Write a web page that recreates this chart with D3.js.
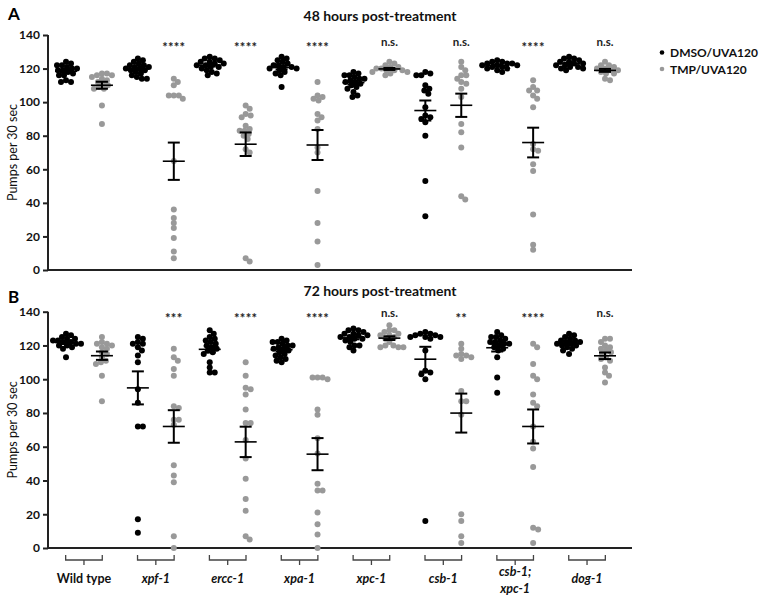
<!DOCTYPE html>
<html><head><meta charset="utf-8">
<script src="https://cdn.jsdelivr.net/npm/d3@7"></script>
<style>body{margin:0;background:#fff}svg{display:block}text{font-family:Lato,'Open Sans',sans-serif}</style>
</head><body>
<script>
// ---------- data ----------
const genotypes = [["Wild type"],["xpf-1"],["ercc-1"],["xpa-1"],["xpc-1"],["csb-1"],["csb-1;","xpc-1"],["dog-1"]];
const italicLabel = [false,true,true,true,true,true,true,true];
const treatments = ["DMSO/UVA120","TMP/UVA120"];
const yTicks = [0,20,40,60,80,100,120,140];
const sig48 = ["", "****", "****", "****", "n.s.", "n.s.", "****", "n.s."];
const sig72 = ["", "***", "****", "****", "n.s.", "**", "****", "n.s."];

const dmso48 = [
  [112,112,113,116,116,117,118,119,119,120,120,121,122,122,123,124],
  [126,125,124,123,122,122,121,121,120,120,119,119,118,117,116,115,114,114],
  [127,126,126,125,124,124,123,123,122,122,121,121,120,119,118,117,116],
  [127,126,125,124,123,122,122,121,121,120,120,119,118,117,116,109],
  [118,117,116,116,115,114,114,113,112,112,111,110,109,108,106,104,103],
  [118,117,116,116,110,108,107,105,97,92,91,90,88,80,53,32],
  [125,124,124,123,123,123,122,122,122,121,121,120,120,119,118],
  [127,126,126,125,124,124,123,123,122,122,121,121,120,120,119]
];
const tmp48 = [
  [117,117,116,116,115,114,113,112,111,110,109,108,108,98,87],
  [114,112,110,104,104,104,102,65,36,31,28,25,19,11,7],
  [98,96,93,92,91,86,84,83,83,81,80,78,72,70,7,5],
  [112,104,103,102,101,93,91,89,84,73,70,47,28,17,3],
  [124,123,122,121,121,120,120,119,119,119,118,118,117,116],
  [124,121,119,116,116,114,112,111,108,103,87,82,73,44,42],
  [113,109,107,107,104,102,97,75,72,71,63,59,33,15,12],
  [124,122,122,121,120,120,119,119,118,117,117,114,113]
];
const dmso72 = [
  [127,126,125,124,124,123,123,122,122,121,121,120,120,119,118,113],
  [125,124,122,121,121,119,117,114,110,94,86,72,72,17,9],
  [129,127,125,124,123,122,121,120,119,118,117,116,115,110,107,104,104],
  [124,123,122,122,121,120,120,119,118,118,117,116,115,114,113,112,111,110],
  [130,129,129,128,127,127,126,126,125,125,124,124,123,122,120,120,119,117],
  [128,127,127,126,126,125,125,125,124,117,105,104,103,100,16],
  [128,126,125,125,124,123,122,122,121,121,120,119,118,117,113,101,92],
  [127,126,125,124,123,123,122,122,121,121,120,120,119,118,117,115]
];
const tmp72 = [
  [125,122,121,121,120,119,118,116,115,113,111,110,109,102,87],
  [118,113,111,106,102,84,83,76,76,73,49,43,39,7,0],
  [110,102,95,94,91,82,74,74,64,53,41,29,22,5,7],
  [101,100,101,101,82,79,65,56,38,34,34,21,14,8,0],
  [132,129,129,128,127,126,126,125,124,122,120,120,119,119,119],
  [121,118,115,114,114,113,112,93,87,87,79,20,16,7,3],
  [121,119,109,102,100,91,86,84,72,63,59,48,12,11,3],
  [124,124,122,120,119,118,117,116,115,113,112,111,107,104,102,98]
];

// ---------- drawing ----------
const W = 761, H = 602;
const colors = ["#000000", "#999999"];
const svg = d3.select("body").append("svg").attr("width", W).attr("height", H);

const cols = d3.range(16);
const x = d3.scalePoint().domain(cols).range([66, 605]);
const axisX0 = 48, axisX1 = 632;
const R = 3;

function swarm(values, cx, y, minD) {
  const pts = values.map(v => ({v, y: y(v)})).sort((a, b) => b.v - a.v);
  const placed = [];
  for (const p of pts) {
    let off = 0;
    for (let k = 0; k < 400; k++) {
      const o = (k % 2 ? 1 : -1) * Math.ceil(k / 2) * 0.5;
      const ok = placed.every(q => (q.x - (cx + o)) ** 2 + (q.y - p.y) ** 2 >= minD * minD);
      if (ok) { off = o; break; }
    }
    p.x = cx + off;
    placed.push(p);
  }
  return placed;
}

function panel(opts) {
  const {top, bottom, dmso, tmp, sig, letter, title, titleY, letterY, sigY} = opts;
  const y = d3.scaleLinear().domain([0, 140]).range([bottom, top]);
  const g = svg.append("g");

  // y axis
  const ax = g.append("g").attr("transform", `translate(${axisX0},0)`)
    .call(d3.axisLeft(y).tickValues(yTicks).tickSize(5).tickPadding(3));
  ax.select(".domain").attr("stroke", "#222").attr("stroke-width", 2).attr("d", `M0,${bottom}V${top}`);
  ax.selectAll(".tick line").attr("stroke", "#222").attr("stroke-width", 2);
  ax.selectAll(".tick text").attr("font-size", 12).attr("font-weight", "bold").attr("fill", "#111")
    .style("font-family", "Lato,'Open Sans',sans-serif");
  // x axis line
  g.append("line").attr("x1", axisX0 - 1).attr("x2", axisX1).attr("y1", bottom).attr("y2", bottom)
    .attr("stroke", "#222").attr("stroke-width", 2);

  g.append("text").attr("transform", `translate(17,${(top + bottom) / 2}) rotate(-90)`)
    .attr("text-anchor", "middle").attr("font-size", 12.5).attr("fill", "#111").text("Pumps per 30 sec");
  g.append("text").attr("x", 8).attr("y", letterY).attr("font-size", 17).attr("font-weight", "bold").text(letter);
  g.append("text").attr("x", 380).attr("y", titleY).attr("text-anchor", "middle").attr("font-size", 14)
    .attr("font-weight", "bold").attr("fill", "#111").text(title);

  genotypes.forEach((gn, i) => {
    [dmso[i], tmp[i]].forEach((vals, t) => {
      const col = i * 2 + t;
      const cx = x(col);
      const pts = swarm(vals, cx, y, 5.0);
      g.append("g").selectAll("circle").data(pts).join("circle")
        .attr("cx", d => d.x).attr("cy", d => d.y).attr("r", R).attr("fill", colors[t]);
      const m = d3.mean(vals);
      const sem = d3.deviation(vals) / Math.sqrt(vals.length);
      const eg = g.append("g").attr("stroke", "#000");
      eg.append("line").attr("x1", cx - 11).attr("x2", cx + 11).attr("y1", y(m)).attr("y2", y(m)).attr("stroke-width", 1.6);
      eg.append("line").attr("x1", cx).attr("x2", cx).attr("y1", y(m + sem)).attr("y2", y(m - sem)).attr("stroke-width", 2);
      eg.append("line").attr("x1", cx - 6).attr("x2", cx + 6).attr("y1", y(m + sem)).attr("y2", y(m + sem)).attr("stroke-width", 2);
      eg.append("line").attr("x1", cx - 6).attr("x2", cx + 6).attr("y1", y(m - sem)).attr("y2", y(m - sem)).attr("stroke-width", 2);
    });
    const s = sig[i];
    if (s) {
      const isStar = s.includes("*");
      g.append("text").attr("x", x(i * 2 + 1)).attr("y", isStar ? sigY + 6 : sigY)
        .attr("text-anchor", "middle").attr("font-size", isStar ? 13 : 11.5).attr("font-weight", "bold")
        .attr("fill", "#222").attr("letter-spacing", isStar ? 0.3 : 0).text(s);
    }
  });
  return y;
}

panel({top: 35, bottom: 270, dmso: dmso48, tmp: tmp48, sig: sig48, letter: "A",
  title: "48 hours post-treatment", titleY: 21, letterY: 20, sigY: 46});
panel({top: 311.7, bottom: 548, dmso: dmso72, tmp: tmp72, sig: sig72, letter: "B",
  title: "72 hours post-treatment", titleY: 296, letterY: 303, sigY: 317});

// brackets and group labels
const bg = svg.append("g");
genotypes.forEach((lines, i) => {
  const c = (x(i * 2) + x(i * 2 + 1)) / 2;
  const hw = 18.3;
  bg.append("path").attr("d", `M${c - hw},555V560H${c + hw}V555M${c},560V565`)
    .attr("fill", "none").attr("stroke", "#444").attr("stroke-width", 1.3);
  const t = bg.append("text").attr("text-anchor", "middle").attr("font-size", 12.5).attr("font-weight", "bold")
    .attr("font-style", italicLabel[i] ? "italic" : "normal").attr("fill", "#111");
  if (lines.length === 1) {
    t.append("tspan").attr("x", c).attr("y", 583).text(lines[0]);
  } else {
    t.append("tspan").attr("x", c).attr("y", 576).text(lines[0]);
    t.append("tspan").attr("x", c).attr("y", 593).text(lines[1]);
  }
});

// legend
const lg = svg.append("g");
treatments.forEach((t, i) => {
  const yy = 52.5 + i * 16.5;
  lg.append("circle").attr("cx", 662).attr("cy", yy).attr("r", 2.3).attr("fill", colors[i]);
  lg.append("text").attr("x", 670).attr("y", yy + 4.5).attr("font-size", 12).attr("font-weight", "bold")
    .attr("fill", "#111").text(t);
});
</script>
</body></html>
